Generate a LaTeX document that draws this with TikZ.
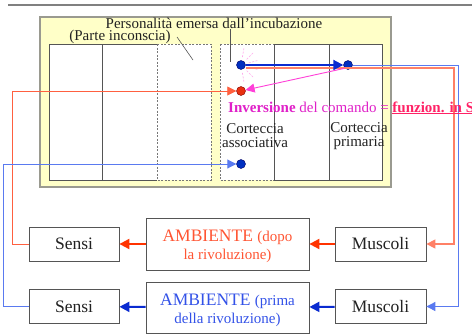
\documentclass[tikz,border=0pt]{standalone}
\usepackage{fontspec}
\setmainfont{Liberation Serif}
\usetikzlibrary{arrows.meta}
\definecolor{yellowbg}{HTML}{FFFFC8}
\definecolor{framegray}{HTML}{9A9A90}
\definecolor{colline}{HTML}{555555}
\definecolor{txtgray}{HTML}{222222}
\definecolor{orangeT}{HTML}{FF5533}
\definecolor{orangeA}{HTML}{FF3300}
\definecolor{orangeL}{HTML}{FF6040}
\definecolor{blueT}{HTML}{3352E8}
\definecolor{blueA}{HTML}{0A2BD0}
\definecolor{blueL}{HTML}{5A7AF0}
\definecolor{pinkT}{HTML}{E020C8}
\definecolor{pinkA}{HTML}{FF40D8}
\definecolor{redpink}{HTML}{FF2266}
\definecolor{dotblue}{HTML}{0030C0}
\definecolor{dotred}{HTML}{E83010}
\begin{document}
\begin{tikzpicture}[x=1pt,y=-1pt,
  bigfont/.style={font=\fontsize{17.5}{18}\selectfont},
  midfont/.style={font=\fontsize{15}{14}\selectfont},
  envfont/.style={font=\fontsize{15}{18}\selectfont},
  boxnode/.style={draw=colline, line width=0.8pt, fill=white, inner sep=0pt, text=txtgray, align=center},
  colsolid/.style={draw=colline, line width=0.7pt},
  coldash/.style={draw=colline!80, line width=0.8pt, dash pattern=on 2pt off 1.5pt},
  bdot/.style={circle, fill=dotblue, draw=blue!40!black, line width=0.4pt, minimum size=9pt, inner sep=0pt},
  rdot/.style={circle, fill=dotred, draw=red!50!black, line width=0.4pt, minimum size=9pt, inner sep=0pt},
  thicktip/.style={-{Triangle[length=10pt,width=10pt]}},
  thintip/.style={-{Triangle[length=9pt,width=9pt]}},
]
\useasboundingbox (0,0) rectangle (472,335);
\fill[white] (0,0) rectangle (472,335);
% top rule
\draw[line width=2.5pt, gray] (8,5) -- (472,5);
% yellow frame
\draw[fill=yellowbg, draw=framegray, line width=1.5pt] (40,17) rectangle (391,187);
% left group of columns
\fill[white] (49,44) rectangle (211,180);
\draw[colsolid] (157,44) -- (49,44) -- (49,180) -- (157,180);
\draw[colsolid] (102,44) -- (102,180);
\draw[coldash] (157,44) rectangle (211,180);
% right group of columns
\fill[white] (220,44) rectangle (382,180);
\draw[coldash] (220,44) rectangle (274,180);
\draw[colsolid] (274,44) -- (382,44) -- (382,180) -- (274,180);
\draw[colsolid] (274,44) -- (274,180);
\draw[colsolid] (329,44) -- (329,180);
% titles
\node[midfont, text=txtgray, anchor=base, inner sep=0pt] (pe) at (214,28.5) {Personalità emersa dall’incubazione};
\node[midfont, text=txtgray, anchor=base, inner sep=0pt] (pi) at (120,40.5) {(Parte inconscia)};
\coordinate (p1) at (193,60);
\coordinate (p2) at (230,62);
\draw[colline, line width=0.6pt] (177,37) -- (p1);
\draw[colline, line width=0.6pt] (pe.south -| p2) -- (p2);
% cortex labels
\node[midfont, text=txtgray, align=center, inner sep=0pt] (ca) at (255,136) {Corteccia\\associativa};
\node[midfont, text=txtgray, align=center, inner sep=0pt] (cp) at (359,136) {Corteccia\\primaria};
% dots
\node[bdot] (d1) at (241,65) {};
\node[bdot] (d2) at (348,65) {};
\node[rdot] (rd) at (241,91) {};
\node[bdot] (d3) at (241,164) {};
% starburst
\foreach \a in {-80,-45,-15,15,45,80}
  \draw[pinkA!45, line width=0.6pt, dash pattern=on 2pt off 1.5pt] (d1) ++(\a:8) -- ++(\a:9);
% bottom boxes
\node[boxnode, bigfont, minimum width=90pt, minimum height=34pt] (s1) at (74,244) {Sensi};
\node[boxnode, envfont, minimum width=163pt, minimum height=52pt, text=orangeT] (a1) at (227.5,244)
  {\rule{0pt}{16.5pt}{\fontsize{17.5}{18}\selectfont AMBIENTE\ }(dopo\\la rivoluzione)};
\node[boxnode, bigfont, minimum width=91pt, minimum height=34pt] (m1) at (380.5,244) {Muscoli};
\node[boxnode, bigfont, minimum width=90pt, minimum height=34pt] (s2) at (74,306.5) {Sensi};
\node[boxnode, envfont, minimum width=163pt, minimum height=51pt, text=blueT] (a2) at (227.5,307.5)
  {\rule{0pt}{16.5pt}{\fontsize{17.5}{18}\selectfont AMBIENTE\ }(prima\\della rivoluzione)};
\node[boxnode, bigfont, minimum width=91pt, minimum height=34pt] (m2) at (380.5,306.5) {Muscoli};
% orange loop (after the revolution)
\coordinate (oS) at (246,68);
\coordinate (oR) at (454,68);
\coordinate (oL) at (12,91);
\draw[orangeL!80, line width=1.4pt, thintip] (oS) -- (oR) |- (m1);
\draw[orangeL, line width=0.8pt, thintip] (s1.west) -| (oL) -- (rd);
% blue loop (before the revolution)
\coordinate (bR) at (458,65);
\coordinate (bL) at (3,164);
\draw[blueA, line width=2pt, thicktip] (d1) -- (d2);
\draw[blueL, line width=0.9pt, thintip] (d2) -- (bR) |- (m2);
\draw[blueL, line width=0.9pt, thintip] (s2.west) -| (bL) -- (d3);
% pink inversion arrow
\draw[pinkA, line width=0.9pt, thintip] (d2.south west) -- (rd);
\node[font=\fontsize{15}{16}\selectfont, text=pinkT, anchor=base west, inner sep=0pt] (inv) at (228,112)
  {\textbf{Inversione} del comando = \textcolor{redpink}{\underline{\textbf{funzion. in S}}}};
% bottom row arrows
\draw[orangeA, line width=2pt, thicktip] (m1) -- (a1);
\draw[orangeA, line width=2pt, thicktip] (a1) -- (s1);
\draw[blueA, line width=2pt, thicktip] (m2) -- (a2);
\draw[blueA, line width=2pt, thicktip] (a2) -- (s2);
\end{tikzpicture}
\end{document}
